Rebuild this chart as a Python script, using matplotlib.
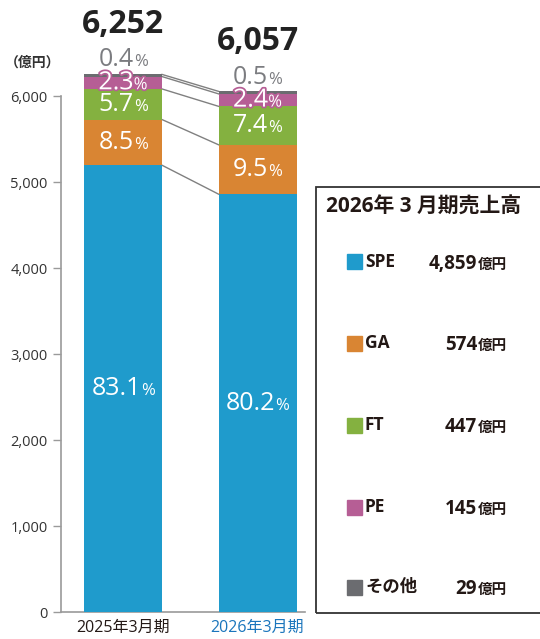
import matplotlib
matplotlib.use("Agg")
import matplotlib.pyplot as plt
import matplotlib.patheffects as pe
from matplotlib.offsetbox import TextArea, HPacker, AnnotationBbox
from matplotlib.patches import Rectangle

plt.rcParams['font.family'] = ['Open Sans', 'Noto Sans CJK JP', 'DejaVu Sans']

# data
periods = ['2025年3月期', '2026年3月期']
segments = ['SPE', 'GA', 'FT', 'PE', 'その他']
colors = ['#1f9bcc', '#d98533', '#84b140', '#b65e95', '#6b6c70']
vals_2025 = [5195, 531, 356, 144, 25]
vals_2026 = [4859, 574, 447, 145, 29]
pct_2025 = ['83.1', '8.5', '5.7', '2.3', '0.4']
pct_2026 = ['80.2', '9.5', '7.4', '2.4', '0.5']
totals = ['6,252', '6,057']
legend_vals = ['4,859', '574', '447', '145', '29']

W, H = 540, 639
fig = plt.figure(figsize=(W / 100, H / 100), dpi=100)
ax = fig.add_axes([61 / W, 27 / H, 244 / W, 516 / H])

x = [0, 1]
width = 0.58
series = [vals_2025, vals_2026]
pcts = [pct_2025, pct_2026]

tops = []
for i in range(2):
    bottom = 0
    bounds = []
    for j, v in enumerate(series[i]):
        ax.bar(x[i], v, width, bottom=bottom, color=colors[j], clip_on=False, zorder=3)
        bottom += v
        bounds.append(bottom)
    tops.append(bounds)

# connecting lines between segment boundaries
for j in range(5):
    ax.plot([x[0] + width / 2, x[1] - width / 2], [tops[0][j], tops[1][j]],
            color='#808080', lw=1, clip_on=False, zorder=2)


def pct_label(xc, y, num, color='white', stroke=None):
    props = dict(color=color, fontsize=18, family=['Open Sans', 'DejaVu Sans'])
    props2 = dict(color=color, fontsize=12, family=['Open Sans', 'DejaVu Sans'])
    if stroke:
        props['path_effects'] = [pe.withStroke(linewidth=2.5, foreground=stroke)]
        props2['path_effects'] = [pe.withStroke(linewidth=2.5, foreground=stroke)]
    box = HPacker(children=[TextArea(num, textprops=props), TextArea('%', textprops=props2)],
                  align='baseline', pad=0, sep=0)
    ab = AnnotationBbox(box, (xc, y), frameon=False, box_alignment=(0.5, 0.5),
                        annotation_clip=False, zorder=5)
    ax.add_artist(ab)


for i in range(2):
    bottom = 0
    for j, v in enumerate(series[i]):
        mid = bottom + v / 2
        bottom += v
        if j < 3:
            pct_label(x[i], mid, pcts[i][j])
        elif j == 3:
            pct_label(x[i], mid, pcts[i][j], stroke=colors[3])
    # small "other" share above bar
    pct_label(x[i], [6420, 6220][i], pcts[i][4], color='#7b7c80')

ax.text(x[0], 6826, totals[0], ha='center', va='center', fontsize=23,
        fontweight='bold', color='#222222')
ax.text(x[1], 6628, totals[1], ha='center', va='center', fontsize=23,
        fontweight='bold', color='#222222')

ax.set_xlim(-0.461, 1.353)
ax.set_ylim(0, 6000)
ax.set_yticks(range(0, 6001, 1000))
ax.set_yticklabels([f'{v:,}' for v in range(0, 6001, 1000)])
ax.set_xticks(x)
ax.set_xticklabels(periods)
for lbl, c in zip(ax.get_xticklabels(), ['#231815', '#1a75bc']):
    lbl.set_color(c)
    lbl.set_fontsize(11.5)
ax.tick_params(axis='y', labelsize=10.5, labelcolor='#333333', color='#9a9a9a',
               length=6, width=1)
ax.tick_params(axis='x', length=0, pad=6)
for s in ['top', 'right']:
    ax.spines[s].set_visible(False)
for s in ['left', 'bottom']:
    ax.spines[s].set_color('#9a9a9a')
    ax.spines[s].set_linewidth(1.2)

fig.text(5 / W, 1 - 63 / H, '（億円）', fontsize=10, fontweight='bold', color='#333333',
         va='center', ha='left', family=['Noto Sans CJK JP'])

# legend box
fig.patches.append(Rectangle((316 / W, 1 - 613 / H), 230 / W, 426 / H,
                             transform=fig.transFigure, fill=False,
                             edgecolor='#333333', lw=1.3))
fig.text(326 / W, 1 - 207 / H, '2026年 3 月期売上高', fontsize=15, fontweight='bold',
         color='#231815', va='center', ha='left')
rows_y = [262, 343, 425, 507, 587]
for j in range(5):
    yy = 1 - rows_y[j] / H
    fig.patches.append(Rectangle((347 / W, yy - 7.5 / H), 15 / W, 15 / H,
                                 transform=fig.transFigure, color=colors[j]))
    fig.text(365 / W, yy, segments[j], fontsize=12.5, fontweight='bold',
             color='#231815', va='center', ha='left')
    fig.text(477 / W, yy - 6.5 / H, legend_vals[j], fontsize=13.5, fontweight='bold',
             color='#231815', va='baseline', ha='right')
    fig.text(478 / W, yy - 6.5 / H, '億円', fontsize=10.5, fontweight='bold',
             color='#231815', va='baseline', ha='left')

fig.savefig('out.png', dpi=100)
